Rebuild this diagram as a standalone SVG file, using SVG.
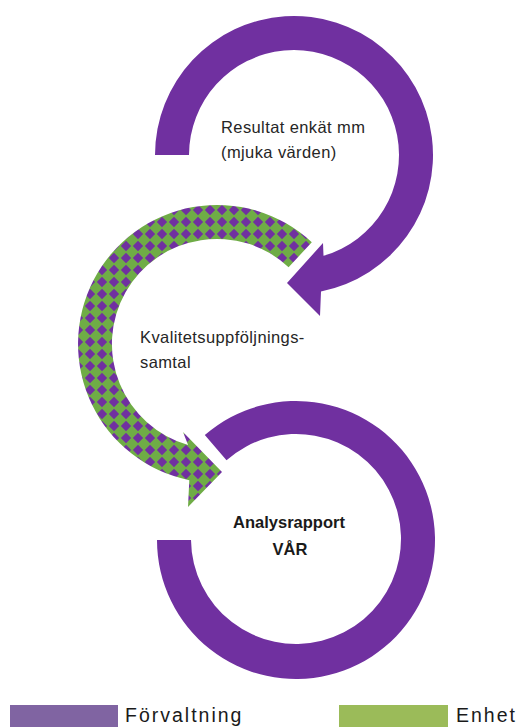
<svg xmlns="http://www.w3.org/2000/svg" width="521" height="727" viewBox="0 0 521 727">
  <defs>
    <pattern id="chk" patternUnits="userSpaceOnUse" width="12" height="12">
      <rect width="12" height="12" fill="#6FAC46"/>
      <path d="M6 0.8 L11.2 6 L6 11.2 L0.8 6 Z" fill="#7030A0"/>
    </pattern>
  </defs>
  <style>
    .purple { fill: #7030A0; }
    .checker { fill: url(#chk); }
    .lbl { font-family: "Liberation Sans", Arial, sans-serif; font-size: 16.5px; fill: #262626; letter-spacing: 0.4px; }
    .bold { font-weight: bold; letter-spacing: 0; fill: #1a1a1a; }
    .legend { font-family: "Liberation Sans", Arial, sans-serif; font-size: 19.5px; fill: #1a1a1a; letter-spacing: 2px; }
  </style>
  <rect width="521" height="727" fill="#ffffff"/>

  <g id="node-resultat">
    <path class="purple" d="M155 155 A139 139 0 1 1 321 291.4 L320 316 L287 283 L323 243 L323.5 255.8 A105 105 0 1 0 189 155 Z"/>
    <text class="lbl" x="221" y="133">Resultat enkät mm</text>
    <text class="lbl" x="221" y="158">(mjuka värden)</text>
  </g>

  <g id="node-kvalitet">
    <path class="checker" d="M311.8 242.3 A139 139 0 1 0 189.3 480.2 L188 507 L222 472 L183 432 L188.1 444.9 A105 105 0 1 1 288.6 267.2 Z"/>
    <text class="lbl" x="140" y="343">Kvalitetsuppföljnings-</text>
    <text class="lbl" x="140" y="368">samtal</text>
  </g>

  <g id="node-analys">
    <path class="purple" d="M157 540 A139 139 0 1 0 204.8 435.1 L226.5 460.2 A105 105 0 1 1 191 540 Z"/>
    <text class="lbl bold" x="289" y="528" text-anchor="middle">Analysrapport</text>
    <text class="lbl bold" x="290" y="555" text-anchor="middle">VÅR</text>
  </g>

  <g id="legend">
    <rect x="10" y="705" width="108" height="22" fill="#8064A2"/>
    <text class="legend" x="125" y="722">Förvaltning</text>
    <rect x="339" y="705" width="109" height="22" fill="#9BBB59"/>
    <text class="legend" x="456" y="722">Enhet</text>
  </g>
</svg>
